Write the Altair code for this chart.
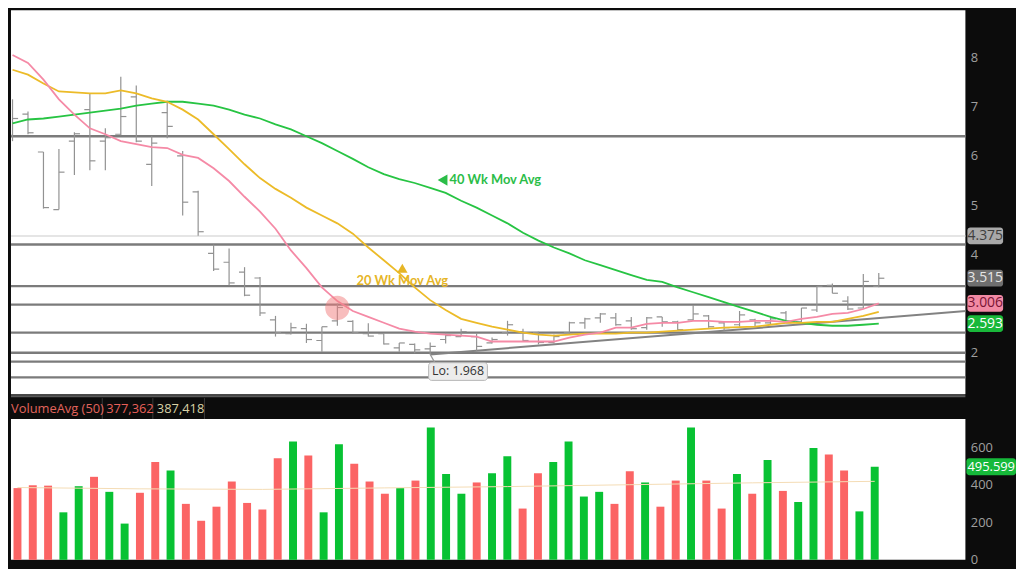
import altair as alt
import pandas as pd

# ---------------- data ----------------
weeks = list(range(57))
opens = [6.42, 6.85, 6.08, 4.91, 6.30, 6.94, 6.30, 6.44, 7.20, 5.83,
         6.88, 6.00, 5.27, 4.02, 3.84, 3.64, 3.52, 2.67, 2.39, 2.49,
         2.25, 2.65, 2.64, 2.39, 2.39, 2.10, 2.17, 2.08, 2.27, 2.33,
         2.33, 2.20, 2.41, 2.43, 2.41, 2.21, 2.41, 2.61, 2.71, 2.71,
         2.65, 2.51, 2.73, 2.63, 2.67, 2.75, 2.61, 2.57, 2.67, 2.61,
         2.81, 2.63, 2.87, 3.37, 3.05, 2.91, 3.35]
highs = [7.15, 6.90, 6.08, 6.14, 6.48, 7.27, 6.56, 7.61, 7.43, 6.40,
         7.12, 6.10, 5.29, 4.20, 4.12, 3.74, 3.54, 2.75, 2.61, 2.59,
         2.53, 3.00, 2.66, 2.60, 2.39, 2.20, 2.19, 2.21, 2.41, 2.49,
         2.39, 2.31, 2.65, 2.49, 2.43, 2.37, 2.63, 2.71, 2.81, 2.81,
         2.73, 2.73, 2.73, 2.65, 2.97, 2.77, 2.63, 2.85, 2.69, 2.75,
         2.85, 2.91, 3.35, 3.41, 3.15, 3.60, 3.62]
lows = [6.30, 6.44, 4.93, 4.91, 5.61, 5.71, 5.71, 6.42, 6.28, 5.39,
        6.36, 4.79, 4.38, 3.66, 3.37, 3.15, 2.75, 2.33, 2.37, 2.20,
        2.02, 2.55, 2.39, 2.33, 2.17, 2.02, 1.99, 1.968, 2.19, 2.33,
        2.04, 2.19, 2.35, 2.23, 2.17, 2.19, 2.37, 2.49, 2.61, 2.55,
        2.47, 2.47, 2.53, 2.45, 2.65, 2.51, 2.45, 2.53, 2.53, 2.57,
        2.61, 2.61, 2.83, 3.21, 2.87, 2.91, 3.33]
closes = [6.76, 6.47, 4.95, 5.67, 6.45, 5.90, 6.37, 6.80, 6.30, 6.26,
          6.60, 5.06, 4.46, 3.70, 3.42, 3.17, 2.81, 2.41, 2.51, 2.27,
          2.53, 2.92, 2.41, 2.34, 2.18, 2.20, 2.06, 2.13, 2.35, 2.43,
          2.13, 2.27, 2.57, 2.25, 2.21, 2.33, 2.61, 2.69, 2.79, 2.57,
          2.49, 2.71, 2.63, 2.47, 2.79, 2.53, 2.51, 2.77, 2.61, 2.69,
          2.61, 2.91, 3.35, 3.21, 2.89, 3.45, 3.515]
ma10 = [8.05, 7.89, 7.55, 7.15, 6.84, 6.56, 6.44, 6.30, 6.24, 6.18,
        6.16, 6.02, 5.96, 5.75, 5.49, 5.17, 4.87, 4.52, 4.08, 3.72,
        3.33, 3.05, 2.85, 2.73, 2.61, 2.49, 2.43, 2.39, 2.37, 2.35,
        2.33, 2.23, 2.23, 2.23, 2.23, 2.23, 2.31, 2.37, 2.41, 2.51,
        2.51, 2.59, 2.61, 2.61, 2.65, 2.65, 2.63, 2.63, 2.65, 2.65,
        2.63, 2.69, 2.73, 2.79, 2.81, 2.89, 3.006]
ma20 = [7.75, 7.65, 7.47, 7.31, 7.29, 7.27, 7.27, 7.33, 7.27, 7.17,
        7.10, 6.94, 6.74, 6.44, 6.14, 5.83, 5.55, 5.33, 5.15, 4.95,
        4.79, 4.63, 4.42, 4.14, 3.88, 3.62, 3.33, 3.07, 2.87, 2.69,
        2.61, 2.53, 2.47, 2.41, 2.37, 2.35, 2.37, 2.39, 2.39, 2.39,
        2.41, 2.41, 2.43, 2.45, 2.47, 2.49, 2.51, 2.52, 2.53, 2.57,
        2.61, 2.61, 2.63, 2.63, 2.69, 2.75, 2.83]
ma40 = [6.66, 6.74, 6.76, 6.80, 6.84, 6.88, 6.92, 6.96, 7.02, 7.06,
        7.10, 7.10, 7.06, 7.02, 6.94, 6.84, 6.76, 6.64, 6.54, 6.40,
        6.26, 6.10, 5.94, 5.77, 5.63, 5.53, 5.45, 5.35, 5.25, 5.09,
        4.95, 4.79, 4.63, 4.44, 4.28, 4.14, 4.02, 3.88, 3.78, 3.68,
        3.58, 3.48, 3.44, 3.33, 3.23, 3.13, 3.03, 2.93, 2.83, 2.73,
        2.65, 2.61, 2.57, 2.55, 2.55, 2.57, 2.593]
volumes = [382, 397, 395, 253, 392, 442, 362, 193, 357, 521,
           476, 298, 208, 283, 417, 303, 268, 541, 630, 556,
           253, 615, 511, 417, 352, 382, 422, 705, 457, 352,
           412, 461, 551, 273, 461, 521, 630, 337, 362, 298,
           471, 412, 283, 422, 705, 422, 273, 457, 352, 531,
           367, 308, 596, 561, 476, 258, 495.599]
vol_dir = ["down", "down", "down", "up", "up", "down", "up", "up", "down", "down",
           "up", "down", "down", "down", "down", "down", "down", "down", "up", "down",
           "up", "up", "down", "down", "down", "up", "down", "up", "up", "up",
           "down", "up", "up", "down", "down", "up", "up", "up", "up", "down",
           "down", "up", "down", "down", "up", "down", "down", "up", "down", "up",
           "down", "up", "up", "down", "down", "up", "up"]
volavg_weeks = [0, 8, 16, 24, 32, 40, 48, 56]
volavg_values = [385, 378, 375, 383, 390, 400, 410, 418]

level_prices = [6.40, 4.20, 3.355, 2.98, 2.41, 2.00, 1.82, 1.50]
light_level = [4.375]
trend_weeks = [27, 61.7]
trend_prices = [1.968, 2.85]
low_value = 1.968

tag_prices = [4.375, 3.515, 3.006, 2.593]
tag_texts = ["4.375", "3.515", "3.006", "2.593"]
tag_fills = ["#a9a9a9", "#6f6f6f", "#f28aa4", "#19b83a"]
tag_colors = ["#3e3e3e", "#e6e6e6", "#7a1434", "#ffffff"]

price_ticks = [2, 4, 5, 6, 7, 8]
vol_ticks = [0, 200, 400, 600]

# ---------------- frames ----------------
ohlc = pd.DataFrame({"week": weeks, "open": opens, "high": highs,
                     "low": lows, "close": closes})
ma = pd.DataFrame({"week": weeks, "ma10": ma10, "ma20": ma20, "ma40": ma40})
vol = pd.DataFrame({"week": weeks, "volume": volumes, "dir": vol_dir})
volavg = pd.DataFrame({"week": volavg_weeks, "avg": volavg_values})
levels = pd.DataFrame({"price": level_prices})
light = pd.DataFrame({"price": light_level})
trend = pd.DataFrame({"week": trend_weeks, "price": trend_prices})
tags = pd.DataFrame({"price": tag_prices, "t": tag_texts,
                     "fill": tag_fills, "tc": tag_colors})

W, H1, H2 = 962, 387, 142
XDOM = [-0.1, 61.6]
PDOM = [1.16, 8.96]
VDOM = [0, 750]

xs = alt.Scale(domain=XDOM, nice=False, zero=False)
ps = alt.Scale(domain=PDOM, nice=False, zero=False)
vs = alt.Scale(domain=VDOM, nice=False, zero=False)
GREY_BAR = "#929292"

price_axis = alt.Axis(orient="right", values=price_ticks, ticks=False, domain=False,
                      grid=False, labelColor="#a0a0a0", labelFont="Open Sans",
                      labelFontSize=13, labelPadding=5, title=None,
                      minExtent=40, maxExtent=40, labelFlush=False)

lv = alt.Chart(levels).mark_rule(color="#7b7b7b", strokeWidth=2.4).encode(
    y=alt.Y("price:Q", scale=ps, axis=price_axis))
lt = alt.Chart(light).mark_rule(color="#dcdcdc", strokeWidth=1.5).encode(
    y=alt.Y("price:Q", scale=ps))
tr = alt.Chart(trend).mark_line(color="#828282", strokeWidth=2, clip=True).encode(
    x=alt.X("week:Q", scale=xs, axis=None), y=alt.Y("price:Q", scale=ps))

hl = alt.Chart(ohlc).mark_rule(color=GREY_BAR, strokeWidth=1.2).encode(
    x=alt.X("week:Q", scale=xs, axis=None),
    y=alt.Y("low:Q", scale=ps), y2="high:Q")
op = alt.Chart(ohlc).transform_calculate(x0="datum.week - 0.36").mark_rule(
    color=GREY_BAR, strokeWidth=1.2, clip=True).encode(
    x=alt.X("x0:Q", scale=xs), x2="week:Q", y=alt.Y("open:Q", scale=ps))
cl = alt.Chart(ohlc).transform_calculate(x1="datum.week + 0.36").mark_rule(
    color=GREY_BAR, strokeWidth=1.2).encode(
    x=alt.X("week:Q", scale=xs), x2="x1:Q", y=alt.Y("close:Q", scale=ps))

def ma_line(field, color):
    return alt.Chart(ma).mark_line(color=color, strokeWidth=1.8).encode(
        x=alt.X("week:Q", scale=xs), y=alt.Y(f"{field}:Q", scale=ps))

m40 = ma_line("ma40", "#27c443")
m20 = ma_line("ma20", "#ecbb28")
m10 = ma_line("ma10", "#f58aa6")

circle = alt.Chart(pd.DataFrame({"week": [21.0], "price": [2.91]})).mark_point(
    shape="circle", filled=True, size=600, color="#f27b7b", opacity=0.5).encode(
    x=alt.X("week:Q", scale=xs), y=alt.Y("price:Q", scale=ps))

ann40 = alt.Chart(pd.DataFrame({"week": [28.25], "price": [5.51], "t": ["40 Wk Mov Avg"]})).mark_text(
    align="left", baseline="middle", font="Lato", fontWeight="bold", fontSize=13,
    color="#2bbd48").encode(x=alt.X("week:Q", scale=xs), y=alt.Y("price:Q", scale=ps), text="t:N")
tri40 = alt.Chart(pd.DataFrame({"week": [27.8], "price": [5.51]})).mark_point(
    shape="triangle-left", filled=True, size=130, color="#2bbd48", opacity=1).encode(
    x=alt.X("week:Q", scale=xs), y=alt.Y("price:Q", scale=ps))
ann20 = alt.Chart(pd.DataFrame({"week": [25.2], "price": [3.46], "t": ["20 Wk Mov Avg"]})).mark_text(
    align="center", baseline="middle", font="Lato", fontWeight="bold", fontSize=13,
    color="#e6b526").encode(x=alt.X("week:Q", scale=xs), y=alt.Y("price:Q", scale=ps), text="t:N")
tri20 = alt.Chart(pd.DataFrame({"week": [25.2], "price": [3.72]})).mark_point(
    shape="triangle-up", filled=True, size=110, color="#e6b526", opacity=1).encode(
    x=alt.X("week:Q", scale=xs), y=alt.Y("price:Q", scale=ps))

lo_df = pd.DataFrame({"week": [28.8], "price": [1.62], "t": [f"Lo: {low_value}"],
                      "w0": [26.9], "w1": [30.7], "p0": [1.44], "p1": [1.80]})
lo_box = alt.Chart(lo_df).mark_rect(fill="#ececec", stroke="#b5b5b5", strokeWidth=1,
                                    cornerRadius=3).encode(
    x=alt.X("w0:Q", scale=xs), x2="w1:Q", y=alt.Y("p0:Q", scale=ps), y2="p1:Q")
lo_txt = alt.Chart(lo_df).mark_text(font="Open Sans", fontSize=12.5, color="#333333").encode(
    x=alt.X("week:Q", scale=xs), y=alt.Y("price:Q", scale=ps), text="t:N")
lo_conn = alt.Chart(pd.DataFrame({"week": [27.0], "w2": [27.3], "price": [low_value], "p2": [1.80]})).mark_rule(
    color="#9a9a9a", strokeWidth=1.2).encode(
    x=alt.X("week:Q", scale=xs), x2="w2:Q", y=alt.Y("price:Q", scale=ps), y2="p2:Q")

tag_box = alt.Chart(tags).transform_calculate(
    lo="datum.price - 0.17", hi="datum.price + 0.17").mark_rect(cornerRadius=3).encode(
    x=alt.value(964), x2=alt.value(1000),
    y=alt.Y("lo:Q", scale=ps), y2="hi:Q",
    fill=alt.Fill("fill:N", scale=None))
tag_txt = alt.Chart(tags).mark_text(font="Open Sans", fontSize=14, baseline="middle").encode(
    x=alt.value(982), y=alt.Y("price:Q", scale=ps), text="t:N",
    color=alt.Color("tc:N", scale=None))

price = alt.layer(lv, lt, tr, hl, op, cl, m40, m20, m10, circle,
                  ann40, tri40, ann20, tri20, lo_conn, lo_box, lo_txt,
                  tag_box, tag_txt).properties(width=W, height=H1)

# ---------------- volume panel ----------------
vol_axis = alt.Axis(orient="right", values=vol_ticks, ticks=False, domain=False,
                    grid=False, labelColor="#a0a0a0", labelFont="Open Sans",
                    labelFontSize=13, labelPadding=5, title=None,
                    minExtent=40, maxExtent=40, labelFlush=False)
bars = alt.Chart(vol).mark_bar(width=8).encode(
    x=alt.X("week:Q", scale=xs, axis=None),
    y=alt.Y("volume:Q", scale=vs, axis=vol_axis),
    color=alt.Color("dir:N", scale=alt.Scale(domain=["down", "up"],
                                             range=["#fb6464", "#08c233"]), legend=None))
avg = alt.Chart(volavg).mark_line(color="#f4dcb4", strokeWidth=1).encode(
    x=alt.X("week:Q", scale=xs), y=alt.Y("avg:Q", scale=vs))

def head_text(txt, xpos, color):
    return alt.Chart(pd.DataFrame({"t": [txt]})).mark_text(
        align="left", baseline="middle", font="Open Sans", fontSize=13, color=color).encode(
        x=alt.value(xpos), y=alt.value(-10), text="t:N")

def divider(xpos):
    return alt.Chart(pd.DataFrame({"t": [0]})).mark_rule(color="#3c3c3c", strokeWidth=1).encode(
        x=alt.value(xpos), y=alt.value(-21), y2=alt.value(0))

top_line = alt.Chart(pd.DataFrame({"t": [0]})).mark_rule(color="#5a5a5a", strokeWidth=2).encode(
    x=alt.value(0), x2=alt.value(W), y=alt.value(-23))

h1 = head_text("VolumeAvg (50)", 0, "#e2645c")
h2 = head_text("377,362", 96, "#e8605a")
h3 = head_text("387,418", 147, "#d9d2a6")

vtag = pd.DataFrame({"v": [volumes[-1]], "t": ["495.599"]})
vtag_box = alt.Chart(vtag).transform_calculate(
    lo="datum.v - 45", hi="datum.v + 45").mark_rect(cornerRadius=3, fill="#16b93a").encode(
    x=alt.value(963), x2=alt.value(1013), y=alt.Y("lo:Q", scale=vs), y2="hi:Q")
vtag_txt = alt.Chart(vtag).mark_text(font="Open Sans", fontSize=13, color="#ffffff",
                                     baseline="middle").encode(
    x=alt.value(988), y=alt.Y("v:Q", scale=vs), text="t:N")

volume = alt.layer(bars, avg, top_line, divider(92), divider(143), divider(195),
                   h1, h2, h3, vtag_box, vtag_txt).properties(width=W, height=H2)

chart = alt.vconcat(price, volume, spacing=25, bounds="flush").properties(
    padding={"left": 0, "top": 0, "right": 0, "bottom": 0}
).configure(background="#0c0c0c").configure_view(fill="white", stroke=None)

chart.save("out.html", embed_options={"renderer": "svg", "actions": False})
